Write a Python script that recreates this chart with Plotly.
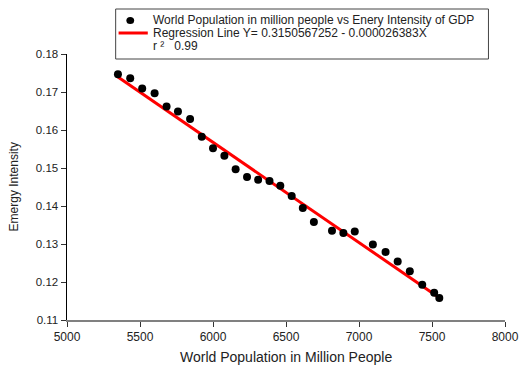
import plotly.graph_objects as go

# ---- data ----
population = [5349, 5433, 5515, 5600, 5682, 5760, 5843, 5923, 6000, 6078,
              6155, 6233, 6309, 6387, 6461, 6539, 6615, 6691, 6815, 6893,
              6971, 7095, 7182, 7265, 7348, 7433, 7515, 7550]
intensity = [0.1747, 0.1736, 0.1709, 0.1697, 0.1662, 0.1649, 0.1629, 0.1582,
             0.1552, 0.1532, 0.1497, 0.1476, 0.1469, 0.1466, 0.1453, 0.1426,
             0.1395, 0.1358, 0.1335, 0.1329, 0.1333, 0.1299, 0.1279, 0.1254,
             0.1228, 0.1193, 0.1172, 0.1158]
reg_intercept = 0.3150567252
reg_slope = -0.000026383
r2 = 0.99

x_ticks = [5000, 5500, 6000, 6500, 7000, 7500, 8000]
y_ticks = [0.11, 0.12, 0.13, 0.14, 0.15, 0.16, 0.17, 0.18]

series_label = "World Population in million people vs Enery Intensity of GDP"
reg_label = "Regression Line Y= 0.3150567252 - 0.000026383X"
r2_label = "r \u00b2   0.99"
x_title = "World Population in Million People"
y_title = "Emergy Intensity"

# ---- layout geometry (pixels) ----
W, H = 531, 367
L, R, T, B = 67, 14, 54, 47
pw, ph = W - L - R, H - T - B

def px(x):
    return (x - L) / pw

def py(y):
    return (H - B - y) / ph

FONT = "Liberation Sans, Arial, sans-serif"

reg_x = [min(population), max(population)]
reg_y = [reg_intercept + reg_slope * v for v in reg_x]

fig = go.Figure()
fig.add_trace(go.Scatter(x=reg_x, y=reg_y, mode="lines",
                         line=dict(color="#ff0000", width=3),
                         name=reg_label, showlegend=False, hoverinfo="skip"))
fig.add_trace(go.Scatter(x=population, y=intensity, mode="markers",
                         marker=dict(color="black", size=8),
                         name=series_label, showlegend=False))

fig.update_layout(
    width=W, height=H,
    margin=dict(l=L, r=R, t=T, b=B, pad=0),
    paper_bgcolor="white", plot_bgcolor="white",
    font=dict(family=FONT, color="#222", size=12),
    showlegend=False,
    xaxis=dict(range=[5000, 8000], tickvals=x_ticks, ticktext=[str(v) for v in x_ticks],
               showgrid=False, zeroline=False, showline=True, linecolor="#808080",
               linewidth=1.5, ticks="outside", ticklen=5, tickcolor="#333",
               tickfont=dict(size=12), fixedrange=True),
    yaxis=dict(range=[0.11, 0.18], tickvals=y_ticks, ticktext=["%.2f" % v for v in y_ticks],
               showgrid=False, zeroline=False, showline=True, linecolor="black",
               linewidth=1.5, ticks="outside", ticklen=5, tickcolor="#333",
               tickfont=dict(size=11.5), fixedrange=True),
)

# axis titles
fig.add_annotation(text=x_title, xref="paper", yref="paper", x=0.5, y=py(357),
                   showarrow=False, xanchor="center", yanchor="middle",
                   font=dict(size=14, color="#222"))
fig.add_annotation(text=y_title, xref="paper", yref="paper", x=px(13), y=0.5,
                   showarrow=False, xanchor="center", yanchor="middle", textangle=-90,
                   font=dict(size=12, color="#222"))

# legend box (manual, to match the tight line spacing)
bx0, bx1, by0, by1 = 117, 500, 9, 59
fig.add_shape(type="rect", xref="paper", yref="paper",
              x0=px(bx0), x1=px(bx1), y0=py(by1), y1=py(by0),
              line=dict(color="#444", width=1), fillcolor="white", layer="above")
fig.add_shape(type="circle", xref="paper", yref="paper",
              x0=px(128), x1=px(136), y0=py(24), y1=py(17),
              line=dict(color="black", width=0), fillcolor="black", layer="above")
fig.add_shape(type="line", xref="paper", yref="paper",
              x0=px(120), x1=px(150), y0=py(33), y1=py(33),
              line=dict(color="#ff0000", width=3), layer="above")
for txt, yc in [(series_label, 20.5), (reg_label, 33), (r2_label, 46)]:
    fig.add_annotation(text=txt, xref="paper", yref="paper", x=px(153), y=py(yc),
                       showarrow=False, xanchor="left", yanchor="middle",
                       font=dict(size=12, color="#222"))

fig.write_html("out.html",
               config={"displayModeBar": False, "staticPlot": True},
               post_script="document.body.style.margin='0';document.body.style.padding='0';")
